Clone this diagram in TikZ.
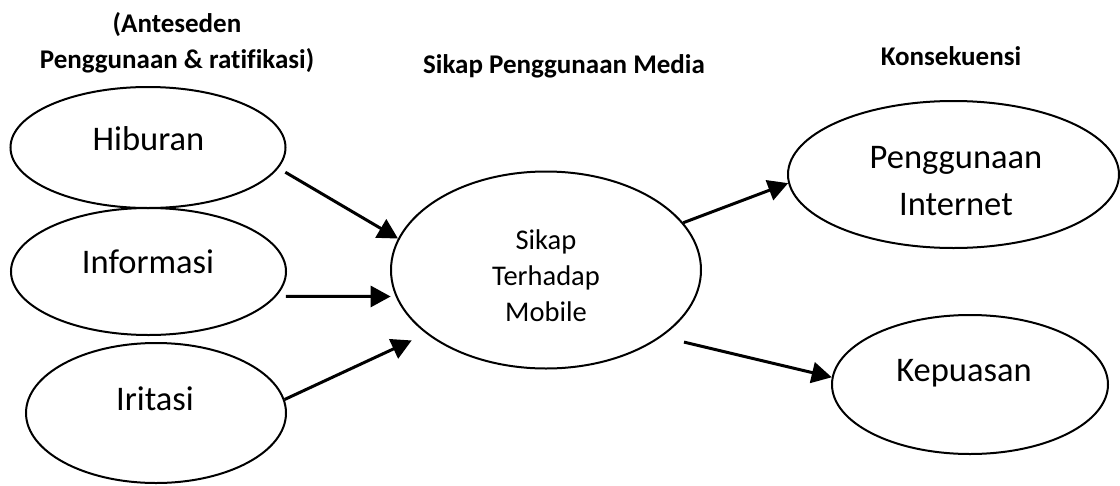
\documentclass[tikz,border=0pt]{standalone}
\usepackage{fontspec}
\setmainfont{Carlito}[Ligatures=NoCommon]
\usetikzlibrary{shapes.geometric, arrows.meta}

\begin{document}
\begin{tikzpicture}[x=1pt, y=-1pt,
        oval/.style={ellipse, draw, line width=2pt, inner sep=0pt},
        txt/.style={inner sep=0pt, anchor=base, align=center, font=\fontsize{34.5}{48}\selectfont},
        head/.style={inner sep=0pt, anchor=base, align=center, font=\fontsize{27}{36}\selectfont\bfseries},
        link/.style={->, line width=3pt},
        >={Triangle[length=20pt, width=21pt]}]
        \useasboundingbox (0, 0) rectangle (1120, 485);
        \node[head] (h-antes) at (177, 68) {(Anteseden\\Penggunaan \& ratifikasi)};
        \node[head] (h-sikap) at (564, 73) {Sikap Penggunaan Media};
        \node[head] (h-konse) at (951, 65) {Konsekuensi};
        \node[oval, minimum width=275, minimum height=121] (hiburan) at (148, 147.5) {};
        \node[oval, minimum width=275, minimum height=127] (informasi) at (148.5, 271.5) {};
        \node[oval, minimum width=260, minimum height=140] (iritasi) at (156, 413) {};
        \node[oval, minimum width=310, minimum height=197] (sikap) at (546, 270) {};
        \node[oval, minimum width=331, minimum height=147] (internet) at (953.5, 174.5) {};
        \node[oval, minimum width=276, minimum height=139] (kepuasan) at (970, 384.5) {};
        \node[txt] (t-hiburan) at (148.5, 150) {Hiburan};
        \node[txt] (t-informasi) at (148, 273) {Informasi};
        \node[txt] (t-iritasi) at (155, 410) {Iritasi};
        \node[txt, font=\fontsize{28.5}{36}\selectfont] (t-sikap) at (546, 321) {Sikap\\Terhadap\\Mobile};
        \node[txt, font=\fontsize{34.5}{47}\selectfont] (t-internet) at (956, 215) {Penggunaan\\Internet};
        \node[txt] (t-kepuasan) at (964, 381) {Kepuasan};
        \draw[link, shorten <=8pt] (hiburan.-9) -- (sikap.168);
        \draw[link, shorten <=9.5pt, shorten >=5pt] (informasi.-11) -- (sikap.-170);
        \draw[link, shorten >=16pt] (iritasi.6) -- (sikap.-152);
        \draw[link] (sikap.19) -- (internet.183.4);
        \draw[link, shorten <=23pt] (sikap.-30.5) -- (kepuasan.177);
    \end{tikzpicture}
\end{document}
